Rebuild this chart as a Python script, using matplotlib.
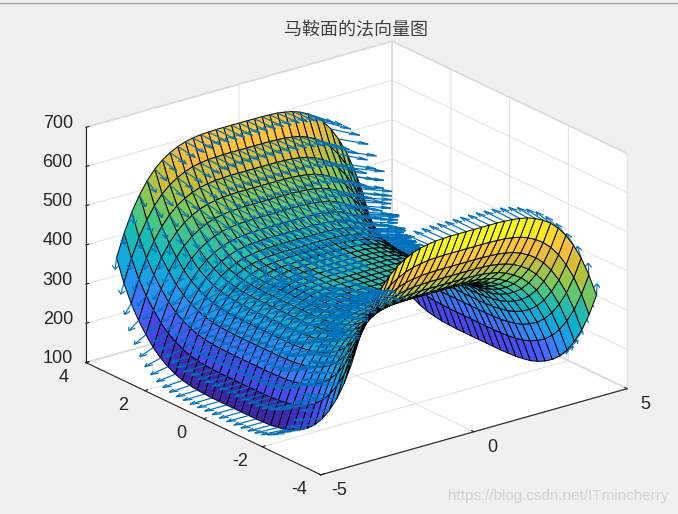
import numpy as np
import matplotlib
matplotlib.use('Agg')
import matplotlib.pyplot as plt
from matplotlib.colors import LinearSegmentedColormap, Normalize
from matplotlib.lines import Line2D
from mpl_toolkits.mplot3d import proj3d
from mpl_toolkits.mplot3d.art3d import Line3DCollection

plt.rcParams['font.family'] = ['Liberation Sans', 'DejaVu Sans']

x_vals = [-4, -3.75, -3.5, -3.25, -3, -2.75, -2.5, -2.25, -2, -1.75, -1.5, -1.25, -1, -0.75, -0.5, -0.25, 0,
          0.25, 0.5, 0.75, 1, 1.25, 1.5, 1.75, 2, 2.25, 2.5, 2.75, 3, 3.25, 3.5, 3.75, 4]
y_vals = list(x_vals)

# heights, rows go with y_vals, columns with x_vals
z_rows = [
    [360,418,466,504,535,559,577,590,600,607,611,614,615,616,616,616,616,616,616,616,615,614,611,607,600,590,577,559,535,504,466,418,360],
    [302,360,408,446,477,501,519,532,542,549,553,556,557,558,558,558,558,558,558,558,557,556,553,549,542,532,519,501,477,446,408,360,302],
    [254,312,360,398,429,453,471,484,494,501,505,508,509,510,510,510,510,510,510,510,509,508,505,501,494,484,471,453,429,398,360,312,254],
    [216,274,322,360,391,415,433,446,456,463,467,470,471,472,472,472,472,472,472,472,471,470,467,463,456,446,433,415,391,360,322,274,216],
    [185,243,291,329,360,384,402,415,425,432,436,439,440,441,441,441,441,441,441,441,440,439,436,432,425,415,402,384,360,329,291,243,185],
    [161,219,267,305,336,360,378,391,401,408,412,415,416,417,417,417,417,417,417,417,416,415,412,408,401,391,378,360,336,305,267,219,161],
    [143,201,249,287,318,342,360,373,383,390,394,397,398,399,399,399,399,399,399,399,398,397,394,390,383,373,360,342,318,287,249,201,143],
    [130,188,236,274,305,329,347,360,370,377,381,384,385,386,386,386,386,386,386,386,385,384,381,377,370,360,347,329,305,274,236,188,130],
    [120,178,226,264,295,319,337,350,360,367,371,374,375,376,376,376,376,376,376,376,375,374,371,367,360,350,337,319,295,264,226,178,120],
    [113,171,219,257,288,312,330,343,353,360,364,367,368,369,369,369,369,369,369,369,368,367,364,360,353,343,330,312,288,257,219,171,113],
    [109,167,215,253,284,308,326,339,349,356,360,363,364,365,365,365,365,365,365,365,364,363,360,356,349,339,326,308,284,253,215,167,109],
    [106,164,212,250,281,305,323,336,346,353,357,360,361,362,362,362,362,362,362,362,361,360,357,353,346,336,323,305,281,250,212,164,106],
    [105,163,211,249,280,304,322,335,345,352,356,359,360,361,361,361,361,361,361,361,360,359,356,352,345,335,322,304,280,249,211,163,105],
    [104,162,210,248,279,303,321,334,344,351,355,358,359,360,360,360,360,360,360,360,359,358,355,351,344,334,321,303,279,248,210,162,104],
    [104,162,210,248,279,303,321,334,344,351,355,358,359,360,360,360,360,360,360,360,359,358,355,351,344,334,321,303,279,248,210,162,104],
    [104,162,210,248,279,303,321,334,344,351,355,358,359,360,360,360,360,360,360,360,359,358,355,351,344,334,321,303,279,248,210,162,104],
    [104,162,210,248,279,303,321,334,344,351,355,358,359,360,360,360,360,360,360,360,359,358,355,351,344,334,321,303,279,248,210,162,104],
    [104,162,210,248,279,303,321,334,344,351,355,358,359,360,360,360,360,360,360,360,359,358,355,351,344,334,321,303,279,248,210,162,104],
    [104,162,210,248,279,303,321,334,344,351,355,358,359,360,360,360,360,360,360,360,359,358,355,351,344,334,321,303,279,248,210,162,104],
    [104,162,210,248,279,303,321,334,344,351,355,358,359,360,360,360,360,360,360,360,359,358,355,351,344,334,321,303,279,248,210,162,104],
    [105,163,211,249,280,304,322,335,345,352,356,359,360,361,361,361,361,361,361,361,360,359,356,352,345,335,322,304,280,249,211,163,105],
    [106,164,212,250,281,305,323,336,346,353,357,360,361,362,362,362,362,362,362,362,361,360,357,353,346,336,323,305,281,250,212,164,106],
    [109,167,215,253,284,308,326,339,349,356,360,363,364,365,365,365,365,365,365,365,364,363,360,356,349,339,326,308,284,253,215,167,109],
    [113,171,219,257,288,312,330,343,353,360,364,367,368,369,369,369,369,369,369,369,368,367,364,360,353,343,330,312,288,257,219,171,113],
    [120,178,226,264,295,319,337,350,360,367,371,374,375,376,376,376,376,376,376,376,375,374,371,367,360,350,337,319,295,264,226,178,120],
    [130,188,236,274,305,329,347,360,370,377,381,384,385,386,386,386,386,386,386,386,385,384,381,377,370,360,347,329,305,274,236,188,130],
    [143,201,249,287,318,342,360,373,383,390,394,397,398,399,399,399,399,399,399,399,398,397,394,390,383,373,360,342,318,287,249,201,143],
    [161,219,267,305,336,360,378,391,401,408,412,415,416,417,417,417,417,417,417,417,416,415,412,408,401,391,378,360,336,305,267,219,161],
    [185,243,291,329,360,384,402,415,425,432,436,439,440,441,441,441,441,441,441,441,440,439,436,432,425,415,402,384,360,329,291,243,185],
    [212,270,318,356,387,411,429,442,452,459,463,466,467,468,468,468,468,468,468,468,467,466,463,459,452,442,429,411,387,356,318,270,212],
    [246,304,352,390,421,445,463,476,486,493,497,500,501,502,502,502,502,502,502,502,501,500,497,493,486,476,463,445,421,390,352,304,246],
    [290,348,396,434,465,489,507,520,530,537,541,544,545,546,546,546,546,546,546,546,545,544,541,537,530,520,507,489,465,434,396,348,290],
    [345,403,451,489,520,544,562,575,585,592,596,599,600,601,601,601,601,601,601,601,600,599,596,592,585,575,562,544,520,489,451,403,345],
]

x_ticks = [-5, 0, 5]
y_ticks = [-4, -2, 0, 2, 4]
z_ticks = [100, 200, 300, 400, 500, 600, 700]
title = '马鞍面的法向量图'
watermark = 'https://blog.csdn.net/ITmincherry'

parula = LinearSegmentedColormap.from_list('parula', [
    (0.0, (0.2422, 0.1504, 0.6603)), (0.1, (0.2765, 0.26, 0.9)), (0.18, (0.28, 0.40, 0.99)),
    (0.25, (0.17, 0.55, 0.97)), (0.35, (0.08, 0.65, 0.88)), (0.45, (0.03, 0.72, 0.75)),
    (0.5, (0.13, 0.74, 0.69)), (0.56, (0.27, 0.78, 0.53)), (0.65, (0.55, 0.79, 0.3)),
    (0.75, (0.8, 0.74, 0.2)), (0.85, (0.99, 0.74, 0.24)), (0.92, (0.98, 0.85, 0.15)),
    (1.0, (0.9769, 0.9839, 0.0805))])

X, Y = np.meshgrid(x_vals, y_vals)
Z = np.array(z_rows, dtype=float)

# normals the way surfnorm gives them
dzdy, dzdx = np.gradient(Z, y_vals, x_vals)
norm_len = np.sqrt(dzdx**2 + dzdy**2 + 1)
L = 0.72
U = -dzdx / norm_len * L
V = -dzdy / norm_len * L
W = 1 / norm_len * L


def arrow_segments(mask):
    segs = []
    a = 0.33
    b = 0.33
    for x0, y0, z0, u, v, w in zip(X[mask], Y[mask], Z[mask], U[mask], V[mask], W[mask]):
        tip = (x0 + u, y0 + v, z0 + w)
        segs.append([(x0, y0, z0), tip])
        segs.append([(x0 + u - a * (u + b * v), y0 + v - a * (v - b * u), z0 + w - a * w), tip])
        segs.append([(x0 + u - a * (u - b * v), y0 + v - a * (v + b * u), z0 + w - a * w), tip])
    return segs


W_PX, H_PX = 678, 514
fig = plt.figure(figsize=(W_PX / 100, H_PX / 100), dpi=100, facecolor='#f0f0f0')
S = 500
ax = fig.add_axes([99.75 / W_PX, -0.75 / H_PX, S / W_PX, S / H_PX], projection='3d',
                  proj_type='ortho', computed_zorder=False)
ax.patch.set_alpha(0)
ax.view_init(elev=21.5, azim=-127.5)
ax.set_xlim(-5, 5)
ax.set_ylim(-4, 4)
ax.set_zlim(100, 700)
ax.set_box_aspect((1, 1, 0.655), zoom=584 / S)

# which side of the sheet the viewer sees, judged in box units;
# arrows on the y<0 part and low right sit behind the near ridge
facing = (-dzdx * 0.0109 * -0.567 + -dzdy * 0.00873 * -0.735 + 0.367) > 0
facing = facing & ~((Y < 0) & (X > -0.5)) & ~((X > 0.5) & (Y < 1.75))
arrow_col = '#0072BD'
ax.add_collection3d(Line3DCollection(arrow_segments(~facing), colors=arrow_col, linewidths=0.85, zorder=1))
face = parula(Normalize(Z.min(), Z.max())(Z))
ax.plot_surface(X, Y, Z, rstride=1, cstride=1, facecolors=face, shade=False,
                edgecolor='black', linewidth=0.7, zorder=2)
ax.add_collection3d(Line3DCollection(arrow_segments(facing), colors=arrow_col, linewidths=0.85, zorder=3))

ax.set_xticks(x_ticks)
ax.set_yticks(y_ticks)
ax.set_zticks(z_ticks)
ax.set_xticklabels([])
ax.set_yticklabels([])
ax.set_zticklabels([])
for axis in (ax.xaxis, ax.yaxis, ax.zaxis):
    axis.set_pane_color((1, 1, 1, 1))
    axis.pane.set_edgecolor('#c8c8c8')
    axis.line.set_color('#262626')
    axis.line.set_linewidth(0.8)
    axis._axinfo['grid'].update(color='#dfdfdf', linewidth=0.7)
    axis._axinfo['tick'].update(inward_factor=0.0, outward_factor=0.12)
ax.tick_params(color='#262626')

fig.canvas.draw()


def put_label(xv, yv, zv, dx, dy, text, ha='center'):
    px, py, _ = proj3d.proj_transform(xv, yv, zv, ax.get_proj())
    dpx, dpy = ax.transData.transform((px, py))
    fig.text((dpx + dx) / W_PX, (dpy - dy) / H_PX, text, fontsize=13, color='#262626', ha=ha, va='center')


for v in x_ticks:
    put_label(v, -4, 100, 18, 16, str(v))
for v in y_ticks:
    put_label(-5, v, 100, -22, 15, str(v))
for v in z_ticks:
    put_label(-5, 4, v, -13, -4, str(v), ha='right')

fig.text(356 / W_PX, 1 - 29 / H_PX, title, family=['Noto Sans CJK SC', 'DejaVu Sans'], fontsize=13,
         color='#404040', ha='center', va='center')
fig.text(669 / W_PX, 1 - 496 / H_PX, watermark, fontsize=11, color='#d0d0d0', ha='right', va='center')
fig.add_artist(Line2D([0, 1], [1 - 2.5 / H_PX, 1 - 2.5 / H_PX], color='#a0a0a0', lw=1))

fig.savefig('out.png', dpi=100, facecolor=fig.get_facecolor())
